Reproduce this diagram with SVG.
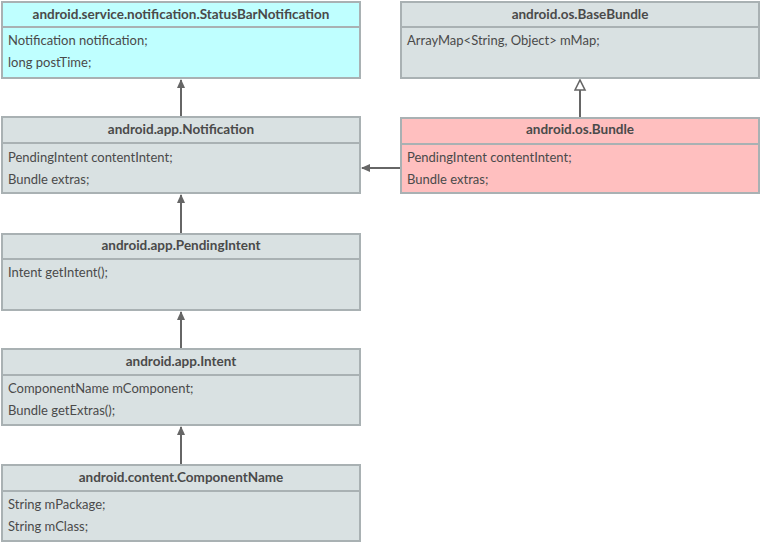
<svg xmlns="http://www.w3.org/2000/svg" width="761" height="543" viewBox="0 0 761 543">
<style>
.box{stroke:#A9B1B3;stroke-width:2}
.grey{fill:#D9E1E2}
.cyan{fill:#BFFFFF}
.pink{fill:#FFBFBF}
.div{stroke:#A9B1B3;stroke-width:2}
.h{font-family:Lato,"Liberation Sans",sans-serif;font-size:13.5px;font-weight:bold;fill:#4A4A4A;text-anchor:middle}
.t{font-family:Lato,"Liberation Sans",sans-serif;font-size:13px;fill:#4A4A4A}
.c{stroke:#666;stroke-width:2;fill:none}
</style>
<defs>
<marker id="a" markerWidth="10" markerHeight="10" refX="8" refY="5" orient="auto" markerUnits="userSpaceOnUse">
<path d="M0,1 L9,5 L0,9 Z" fill="#666"/>
</marker>
<marker id="tri" markerWidth="14" markerHeight="14" refX="11" refY="6" orient="auto" markerUnits="userSpaceOnUse">
<path d="M1,1 L11,6 L1,11 Z" fill="#fff" stroke="#666" stroke-width="1.6"/>
</marker>
</defs>
<g id="connectors">
<line class="c" x1="181" y1="117" x2="181" y2="80" marker-end="url(#a)"/>
<line class="c" x1="181" y1="234" x2="181" y2="195" marker-end="url(#a)"/>
<line class="c" x1="181" y1="349" x2="181" y2="312" marker-end="url(#a)"/>
<line class="c" x1="181" y1="465" x2="181" y2="427" marker-end="url(#a)"/>
<line class="c" x1="401" y1="168" x2="362" y2="168" marker-end="url(#a)"/>
<line class="c" x1="580" y1="118" x2="580" y2="80" marker-end="url(#tri)"/>
</g>
<g id="StatusBarNotification">
<rect class="box cyan" x="2" y="2" width="358" height="76"/>
<line class="div" x1="2" y1="27" x2="360" y2="27"/>
<text class="h" x="181" y="19">android.service.notification.StatusBarNotification</text>
<text class="t" x="8" y="45">Notification notification;</text>
<text class="t" x="8" y="67">long postTime;</text>
</g>
<g id="BaseBundle">
<rect class="box grey" x="401" y="2" width="358" height="76"/>
<line class="div" x1="401" y1="27" x2="759" y2="27"/>
<text class="h" x="580" y="19">android.os.BaseBundle</text>
<text class="t" x="407" y="45">ArrayMap&lt;String, Object&gt; mMap;</text>
</g>
<g id="Notification">
<rect class="box grey" x="2" y="117" width="358" height="76"/>
<line class="div" x1="2" y1="143" x2="360" y2="143"/>
<text class="h" x="181" y="134">android.app.Notification</text>
<text class="t" x="8" y="162">PendingIntent contentIntent;</text>
<text class="t" x="8" y="184">Bundle extras;</text>
</g>
<g id="Bundle">
<rect class="box pink" x="401" y="118" width="358" height="75"/>
<line class="div" x1="401" y1="144" x2="759" y2="144"/>
<text class="h" x="580" y="134">android.os.Bundle</text>
<text class="t" x="407" y="162">PendingIntent contentIntent;</text>
<text class="t" x="407" y="184">Bundle extras;</text>
</g>
<g id="PendingIntent">
<rect class="box grey" x="2" y="234" width="358" height="76"/>
<line class="div" x1="2" y1="259" x2="360" y2="259"/>
<text class="h" x="181" y="250">android.app.PendingIntent</text>
<text class="t" x="8" y="277">Intent getIntent();</text>
</g>
<g id="Intent">
<rect class="box grey" x="2" y="349" width="358" height="76"/>
<line class="div" x1="2" y1="375" x2="360" y2="375"/>
<text class="h" x="181" y="366">android.app.Intent</text>
<text class="t" x="8" y="393">ComponentName mComponent;</text>
<text class="t" x="8" y="415">Bundle getExtras();</text>
</g>
<g id="ComponentName">
<rect class="box grey" x="2" y="465" width="358" height="76"/>
<line class="div" x1="2" y1="491" x2="360" y2="491"/>
<text class="h" x="181" y="482">android.content.ComponentName</text>
<text class="t" x="8" y="509">String mPackage;</text>
<text class="t" x="8" y="531">String mClass;</text>
</g>
</svg>
